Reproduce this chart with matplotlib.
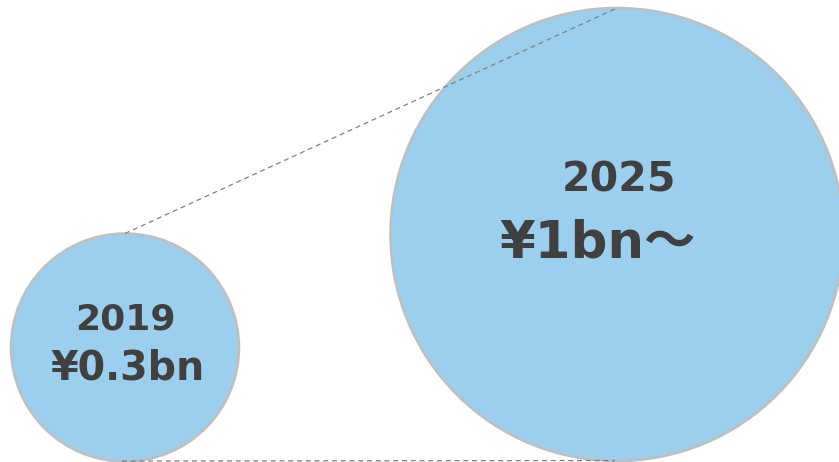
import matplotlib.pyplot as plt
from matplotlib.patches import Circle

plt.rcParams['font.family'] = ['DejaVu Sans', 'Noto Sans CJK JP']

years = ['2019', '2025']
values = ['¥0.3bn', '¥1bn～']
centers = [(125, 347.5), (617, 234.5)]
radii = [114, 226.5]

fill = '#9BCFED'
edge = '#BFBFBF'
txt = '#404040'

fig = plt.figure(figsize=(8.39, 4.62), dpi=100)
ax = fig.add_axes([0, 0, 1, 1])
ax.set_xlim(0, 839)
ax.set_ylim(462, 0)
ax.set_aspect('equal')
ax.axis('off')

for (cx, cy), r in zip(centers, radii):
    ax.add_patch(Circle((cx, cy), r, facecolor=fill, edgecolor=edge, lw=1.8, zorder=1))

# connector lines top and bottom
(x0, y0), (x1, y1) = centers
r0, r1 = radii
ax.plot([x0, x1], [y0 - r0, y1 - r1], ls=(0, (4, 3)), color='#808080', lw=0.9, zorder=2)
ax.plot([x0 - 3, x1 - 2], [y0 + r0 - 0.5, y1 + r1 - 0.5], ls=(0, (4, 3)), color='#808080', lw=0.9, zorder=2)

ax.text(125, 320, years[0], ha='center', va='center', fontsize=26, fontweight='bold', color=txt)
ax.text(128, 368, values[0], ha='center', va='center', fontsize=28.5, fontweight='bold', color=txt)
ax.text(619, 180, years[1], ha='center', va='center', fontsize=29.5, fontweight='bold', color=txt)
ax.text(598, 243, values[1], ha='center', va='center', fontsize=37, fontweight='bold', color=txt)

fig.savefig('out.png', dpi=100)
